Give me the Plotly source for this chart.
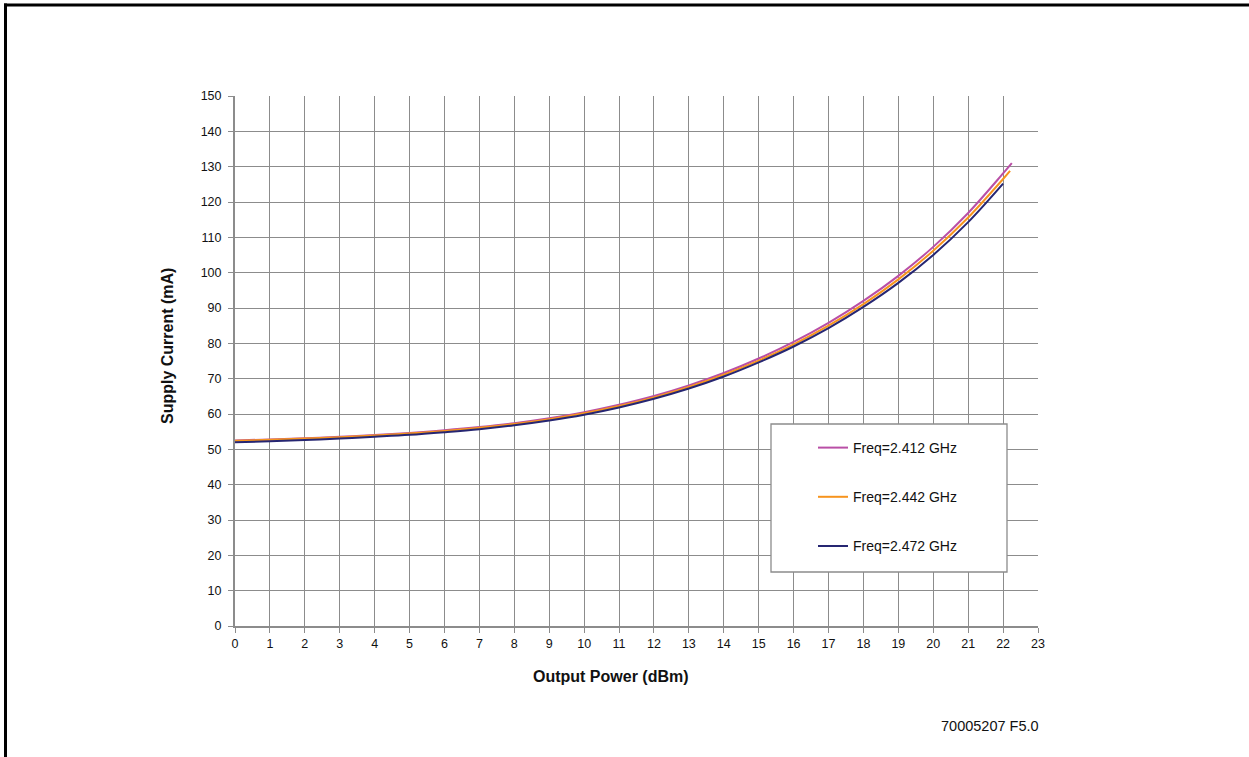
import plotly.graph_objects as go

# Output power (dBm) and supply current (mA) per channel frequency
x_2412 = [0, 1, 2, 3, 4, 5, 6, 7, 8, 9, 10, 11, 12, 13, 14, 15, 16, 17, 18, 19, 20, 21, 22, 22.25]
i_2412 = [52.5, 52.8, 53.15, 53.55, 54.05, 54.65, 55.4, 56.3, 57.4, 58.8, 60.5, 62.6, 65.1, 68.1,
          71.6, 75.7, 80.4, 85.8, 92.0, 99.1, 107.3, 116.9, 128.1, 131.0]

x_2442 = [0, 1, 2, 3, 4, 5, 6, 7, 8, 9, 10, 11, 12, 13, 14, 15, 16, 17, 18, 19, 20, 21, 22, 22.2]
i_2442 = [52.4, 52.7, 53.05, 53.45, 53.9, 54.5, 55.2, 56.1, 57.15, 58.5, 60.2, 62.25, 64.7, 67.65,
          71.1, 75.1, 79.7, 85.0, 91.1, 98.1, 106.2, 115.6, 126.5, 128.8]

x_2472 = [0, 1, 2, 3, 4, 5, 6, 7, 8, 9, 10, 11, 12, 13, 14, 15, 16, 17, 18, 19, 20, 21, 22]
i_2472 = [52.0, 52.3, 52.65, 53.05, 53.55, 54.1, 54.85, 55.7, 56.8, 58.15, 59.8, 61.85, 64.3, 67.2,
          70.6, 74.6, 79.1, 84.3, 90.3, 97.1, 105.0, 114.3, 125.2]

series = [
    ("Freq=2.412 GHz", x_2412, i_2412, "#b94fa6"),
    ("Freq=2.442 GHz", x_2442, i_2442, "#f7941d"),
    ("Freq=2.472 GHz", x_2472, i_2472, "#262672"),
]

x_ticks = list(range(0, 24))
y_ticks = list(range(0, 151, 10))

fig = go.Figure()
for k, (name, xs, ys, color) in enumerate(series):
    fig.add_trace(go.Scatter(
        x=xs, y=ys, mode="lines", name=name,
        line=dict(color=color, width=2, shape="spline", smoothing=1.0),
        legendgroup=f"g{k}",
    ))

W, H = 1249, 757
L, R, T, B = 235, 1038, 96, 626
pw, ph = R - L, B - T

def px(xp):
    return (xp - L) / pw

def py(yp):
    return (B - yp) / ph

grid_col = "#8c8c8c"
font_family = "Liberation Sans, Arial, sans-serif"
text_col = "#111111"

fig.update_layout(
    width=W, height=H,
    margin=dict(l=L, r=W - R, t=T, b=H - B, pad=0),
    paper_bgcolor="white", plot_bgcolor="white",
    font=dict(family=font_family, size=12.5, color=text_col),
    showlegend=True,
    legend=dict(
        x=px(813), y=py(432), xanchor="left", yanchor="top",
        bgcolor="rgba(0,0,0,0)", borderwidth=0,
        font=dict(size=14, family=font_family, color=text_col),
        tracegroupgap=28, itemwidth=30,
    ),
    xaxis=dict(
        range=[0, 23], tickvals=x_ticks, ticktext=[str(v) for v in x_ticks],
        showgrid=True, gridcolor=grid_col, gridwidth=1.3,
        showline=True, linecolor=grid_col, linewidth=2,
        ticks="outside", ticklen=5, tickcolor=grid_col, tickwidth=1.3,
        zeroline=False, mirror=False,
        tickfont=dict(size=12.5),
    ),
    yaxis=dict(
        range=[0, 150], tickvals=y_ticks, ticktext=[str(v) for v in y_ticks],
        showgrid=True, gridcolor=grid_col, gridwidth=1.3,
        showline=True, linecolor=grid_col, linewidth=2,
        ticks="outside", ticklen=5, tickcolor=grid_col, tickwidth=1.3,
        zeroline=False, ticklabelstandoff=4,
        tickfont=dict(size=12.5),
    ),
    shapes=[
        # legend frame
        dict(type="rect", xref="paper", yref="paper",
             x0=px(771), x1=px(1007), y0=py(572), y1=py(424),
             fillcolor="white", line=dict(color="#8c8c8c", width=1.3), layer="above"),
        # page frame: left and top edges as thin filled bars
        dict(type="rect", xref="paper", yref="paper",
             x0=px(4), x1=px(7), y0=py(757), y1=py(3.5),
             fillcolor="black", line=dict(width=0)),
        dict(type="rect", xref="paper", yref="paper",
             x0=px(4), x1=px(1249), y0=py(6.5), y1=py(3.5),
             fillcolor="black", line=dict(width=0)),
    ],
    annotations=[
        # axis titles
        dict(text="<b>Output Power (dBm)</b>", xref="paper", yref="paper",
             x=px(611), y=py(676), xanchor="center", yanchor="middle",
             showarrow=False, font=dict(size=16, color=text_col)),
        dict(text="<b>Supply Current (mA)</b>", xref="paper", yref="paper",
             x=px(167), y=py(346), xanchor="center", yanchor="middle",
             textangle=-90, showarrow=False, font=dict(size=16, color=text_col)),
        dict(text="70005207 F5.0", xref="paper", yref="paper",
             x=px(1041), y=py(726), xanchor="right", yanchor="middle",
             showarrow=False, font=dict(size=14.5, color=text_col)),
    ],
)

fig.write_html("out.html")
